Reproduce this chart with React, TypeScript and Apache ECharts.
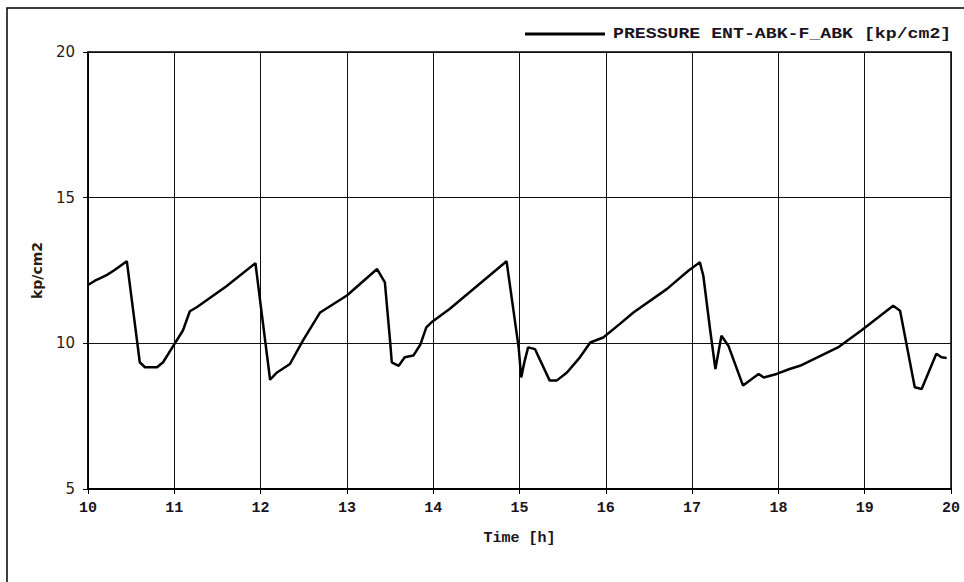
import React, { useEffect, useRef } from "react";
import * as echarts from "echarts";

const seriesName = "PRESSURE ENT-ABK-F_ABK [kp/cm2]";
const xAxisName = "Time [h]";
const yAxisName = "kp/cm2";

const timeHours: number[] = [
  10.0, 10.08, 10.15, 10.22, 10.3, 10.45, 10.6, 10.66, 10.8, 10.87, 10.99, 11.1, 11.18, 11.26, 11.6, 11.94,
  12.01, 12.11, 12.19, 12.34, 12.49, 12.69, 13.0, 13.35, 13.44, 13.5, 13.52, 13.6, 13.67, 13.77, 13.85, 13.92,
  13.98, 14.19, 14.85, 14.99, 15.02, 15.06, 15.1, 15.18, 15.35, 15.43, 15.55, 15.7, 15.82, 15.97, 16.16, 16.32,
  16.71, 16.96, 17.09, 17.13, 17.21, 17.27, 17.34, 17.42, 17.59, 17.77, 17.83, 17.98, 18.13, 18.25, 18.69, 18.96,
  19.33, 19.41, 19.58, 19.66, 19.83, 19.89, 19.95,
];
const pressure: number[] = [
  12.0, 12.15, 12.25, 12.35, 12.5, 12.82, 9.35, 9.18, 9.18, 9.35, 9.92, 10.44, 11.1, 11.24, 11.95, 12.75,
  11.1, 8.75, 9.0, 9.29, 10.09, 11.06, 11.64, 12.55, 12.09, 10.09, 9.35, 9.23, 9.52, 9.58, 9.95, 10.55,
  10.72, 11.18, 12.82, 9.86, 8.83, 9.4, 9.86, 9.8, 8.72, 8.72, 9.0, 9.52, 10.03, 10.2, 10.66, 11.06,
  11.87, 12.5, 12.78, 12.32, 10.44, 9.12, 10.26, 9.92, 8.55, 8.95, 8.83, 8.95, 9.12, 9.23, 9.86, 10.44,
  11.29, 11.12, 8.49, 8.43, 9.64, 9.52, 9.5,
];
const xTicks = { min: 10, max: 20, interval: 1 };
const yTicks = { min: 5, max: 20, interval: 5 };

const MONO = "'Liberation Mono', 'Courier New', Courier, monospace";
const SANS = "'DejaVu Sans', Verdana, sans-serif";

export default function App() {
  const ref = useRef<HTMLDivElement>(null);
  useEffect(() => {
    if (!ref.current) return;
    const chart = echarts.init(ref.current, null, { renderer: "svg" });
    const data = timeHours.map((t, i) => [t, pressure[i]]);
    chart.setOption({
      animation: false,
      backgroundColor: "#ffffff",
      grid: {
        left: 88,
        right: 13,
        top: 52,
        bottom: 93,
        show: true,
        borderColor: "#000",
        borderWidth: 1.5,
        backgroundColor: "transparent",
      },
      xAxis: {
        type: "value",
        min: xTicks.min,
        max: xTicks.max,
        interval: xTicks.interval,
        name: xAxisName,
        nameLocation: "middle",
        nameGap: 42,
        nameTextStyle: { fontFamily: MONO, fontWeight: "bold", fontSize: 15, color: "#1a1420" },
        axisLine: { show: true, onZero: false, lineStyle: { color: "#000", width: 2 } },
        axisTick: { show: true, length: 5, lineStyle: { color: "#000", width: 1 } },
        axisLabel: { margin: 12, fontFamily: MONO, fontWeight: "bold", fontSize: 15, color: "#1a1420" },
        splitLine: { show: true, lineStyle: { color: "#111", width: 1 } },
      },
      yAxis: {
        type: "value",
        min: yTicks.min,
        max: yTicks.max,
        interval: yTicks.interval,
        name: yAxisName,
        nameLocation: "middle",
        nameGap: 44,
        nameRotate: 90,
        nameTextStyle: { fontFamily: SANS, fontWeight: "bold", fontSize: 14, color: "#2a1a10" },
        axisLine: { show: true, onZero: false, lineStyle: { color: "#000", width: 1.5 } },
        axisTick: { show: true, length: 5, lineStyle: { color: "#000", width: 1 } },
        axisLabel: { margin: 13, fontFamily: SANS, fontSize: 15, color: "#2a1a10" },
        splitLine: { show: true, lineStyle: { color: "#111", width: 1 } },
      },
      graphic: [
        {
          type: "rect",
          shape: { x: 7, y: 8, width: 1000, height: 1000 },
          style: { fill: "none", stroke: "#000", lineWidth: 1.5 },
          silent: true,
        },
        {
          type: "line",
          shape: { x1: 525, y1: 34, x2: 605, y2: 34 },
          style: { stroke: "#000", lineWidth: 3 },
        },
        {
          type: "text",
          x: 613,
          y: 34,
          scaleX: 1.3,
          style: {
            text: seriesName,
            fontFamily: MONO,
            fontWeight: "bold",
            fontSize: 14,
            fill: "#1a1420",
            verticalAlign: "middle",
            align: "left",
          },
        },
      ],
      series: [
        {
          name: seriesName,
          type: "line",
          data,
          showSymbol: false,
          symbol: "none",
          lineStyle: { color: "#000", width: 2.5 },
          z: 5,
        },
      ],
    });
    return () => chart.dispose();
  }, []);
  return (
    <div
      ref={ref}
      style={{ position: "fixed", left: 0, top: 0, width: 964, height: 582, background: "#fff" }}
    />
  );
}
